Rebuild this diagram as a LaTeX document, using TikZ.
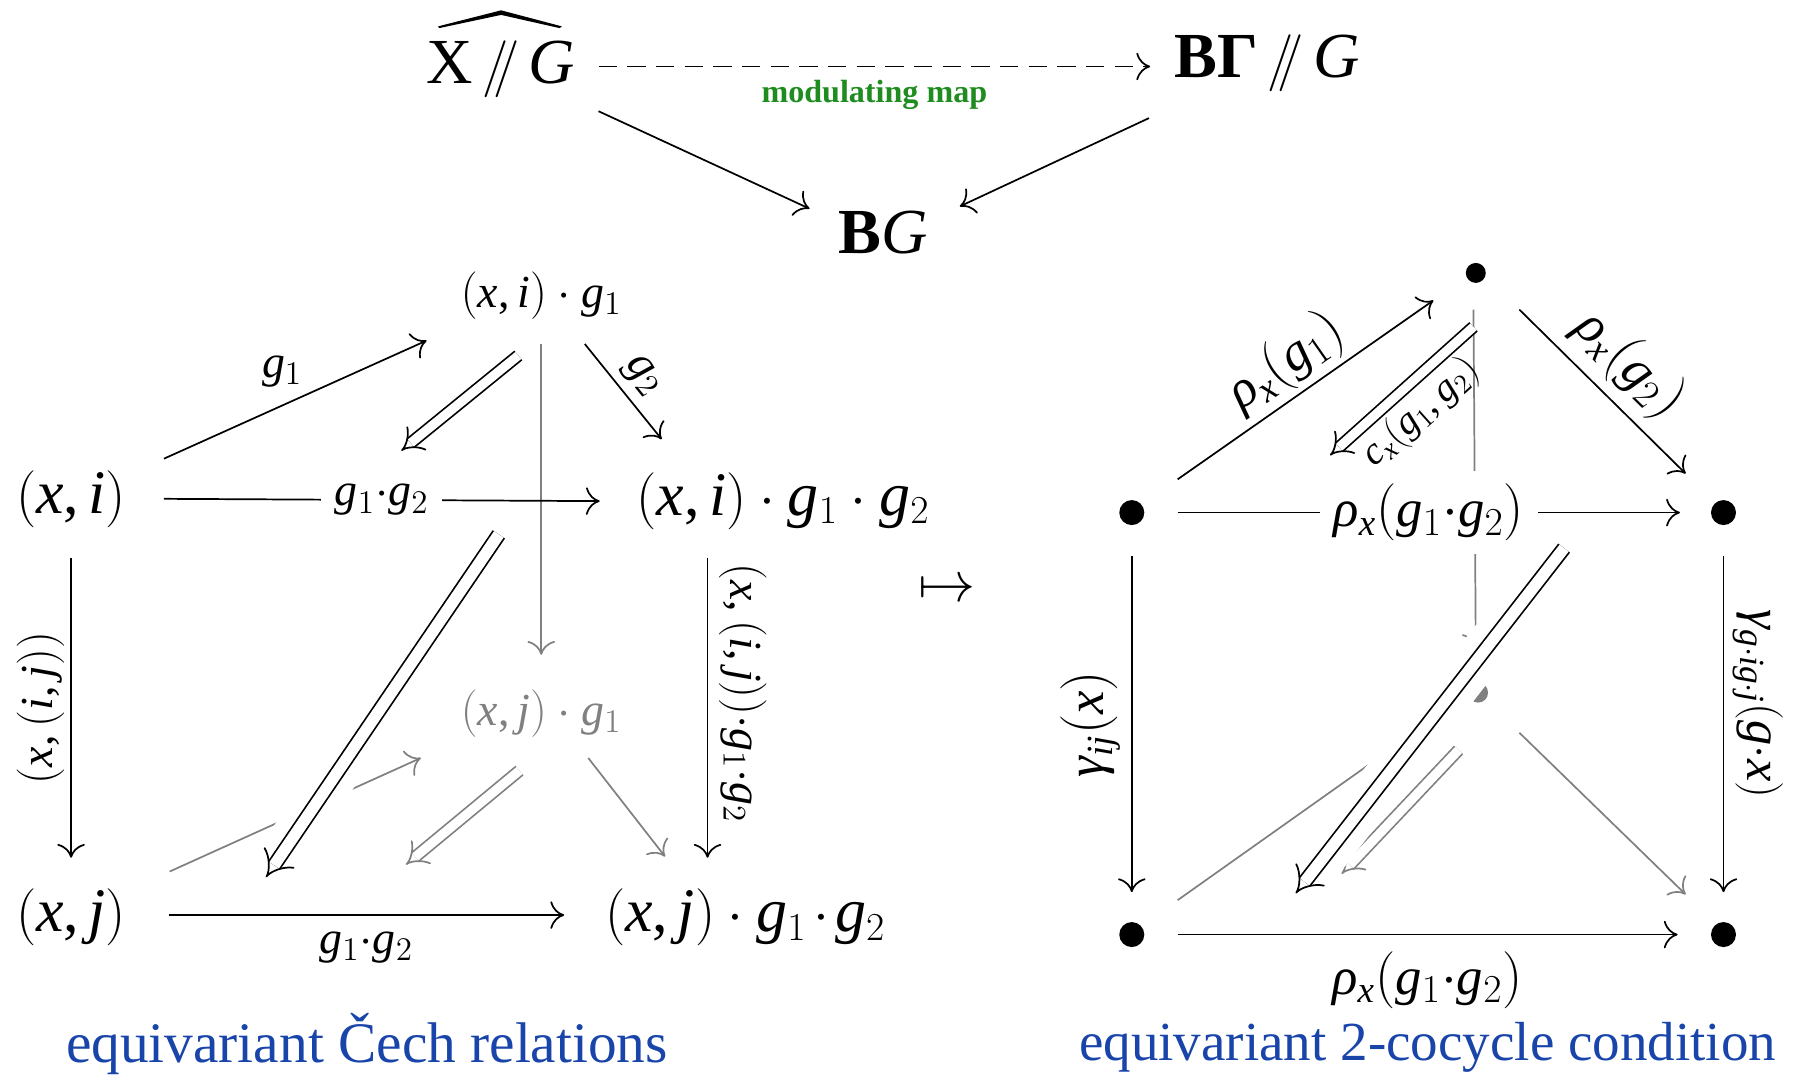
\documentclass[tikz,border=0pt]{standalone}
\usepackage{fontspec}
\setmainfont{Liberation Serif}
\newfontfamily\tmsfam{Liberation Serif}[NFSSFamily=tms]
\DeclareSymbolFont{tlet}{TU}{tms}{m}{it}
\DeclareSymbolFont{tup}{TU}{tms}{m}{n}
\Umathcode`x=7 \symtlet `x
\Umathcode`i=7 \symtlet `i
\Umathcode`j=7 \symtlet `j
\Umathcode`g=7 \symtlet `g
\Umathcode`c=7 \symtlet `c
\Umathcode`G=7 \symtlet `G
\Umathcode`1=0 \symtup `1
\Umathcode`2=0 \symtup `2
\Umathcode`(=4 \symtup `(
\Umathcode`)=5 \symtup `)
\Umathcode`,=6 \symtup `,
\Umathchardef\trho=0 \symtlet "03C1
\Umathchardef\tgamma=0 \symtlet "03B3
\usetikzlibrary{arrows.meta}
\definecolor{eqblue}{RGB}{25,68,170}
\definecolor{modgreen}{RGB}{30,140,30}
\tikzset{
  ar/.style={line width=0.75pt, -{Computer Modern Rightarrow[width=12pt,length=6pt]}},
  gar/.style={ar, draw=gray},
  dar/.style={line width=0.75pt, double=white, double distance=4pt, -{Implies}},
  bdar/.style={line width=0.75pt, double=white, double distance=5pt, -{Implies}},
  band/.style={draw=white, line width=19.5pt},
  topf/.style={font=\fontsize{28}{32}\selectfont, inner sep=0pt},
  bigm/.style={font=\fontsize{27}{30}\selectfont, inner sep=0pt},
  smm/.style={font=\fontsize{20}{23}\selectfont, inner sep=0pt},
  lab/.style={font=\fontsize{20}{23}\selectfont, inner sep=0pt},
  rlab/.style={font=\fontsize{23}{26}\selectfont, inner sep=0pt},
  clab/.style={font=\fontsize{17}{20}\selectfont, inner sep=0pt},
  inl/.style={fill=white, inner xsep=6pt, inner ysep=5.5pt},
  bluetext/.style={font=\fontsize{25}{30}\selectfont, text=eqblue, inner sep=0pt},
  dotS/.style={circle, fill=black, inner sep=0pt, minimum size=8.7pt},
  dotL/.style={circle, fill=black, inner sep=0pt, minimum size=10.9pt},
}
\newcommand{\tdot}{\mskip2mu{\cdot}\mskip2mu}
\begin{document}
\begin{tikzpicture}[x=0.5pt,y=-0.5pt]
\useasboundingbox (0,0) rectangle (1568,944);

% ---------- top triangle ----------
\node[topf] (T1) at (437,60) {$\mathrm{X}\,/\mkern-5mu/\,G$};
\fill ([shift={(-55,-37)}]T1.center) -- ([shift={(0,-51)}]T1.center) -- ([shift={(53,-37)}]T1.center)
  -- ([shift={(51,-35.5)}]T1.center) -- ([shift={(0,-47)}]T1.center) -- ([shift={(-54,-35.5)}]T1.center) -- cycle;
\node[topf] (T2) at (1105,55) {\textbf{BΓ}$\,/\mkern-5mu/\,G$};
\node[topf] (T3) at (770,203) {\textbf{B}$G$};
\draw[ar, dash pattern=on 8pt off 4.5pt] ([shift={(85,-2)}]T1.center) -- ([shift={(-102,3)}]T2.center)
  node[midway, below=5.5pt, font=\fontsize{14}{16}\selectfont\bfseries, text=modgreen, inner sep=0pt] {modulating map};
\draw[ar] ([shift={(85,37)}]T1.center) -- ([shift={(-64,-21)}]T3.center);
\draw[ar] ([shift={(-103,48)}]T2.center) -- ([shift={(67,-23)}]T3.center);

% ---------- left cube ----------
\node[bigm] (A) at (62,435) {$(x,i)$};
\node[smm] (B) at (472,258) {$(x,i)\cdot g_1$};
\node[bigm] (C) at (683,437) {$(x,i)\cdot g_1\cdot g_2$};
\node[bigm] (D) at (62,800) {$(x,j)$};
\node[smm, text=gray] (E) at (472,622) {$(x,j)\cdot g_1$};
\node[bigm] (F) at (650,800) {$(x,j)\cdot g_1\tdot g_2$};

\coordinate (L1s) at (452,310);
\coordinate (L1e) at (350,393);
\coordinate (L2s) at (435,466);
\coordinate (L2e) at (232,765);
\coordinate (L3s) at (453,672);
\coordinate (L3e) at (354,754);

% gray (back) parts
\draw[gar] ([shift={(0,42)}]B.center) -- ([shift={(0,-51)}]E.center);
\draw[gar] ([shift={(86,-40)}]D.center) -- ([shift={(-105,39)}]E.center);
\draw[gar] ([shift={(41,39)}]E.center) -- ([shift={(-70,-53)}]F.center);
\draw[dar, draw=gray] (L3s) -- (L3e);

% front parts
\draw[ar] ([shift={(81,-35)}]A.center) -- ([shift={(-100,39)}]B.center)
  node[pos=0.45, above=7.5pt, lab] {$g_1$};
\draw[ar] ([shift={(38,42)}]B.center) -- ([shift={(-106,-54)}]C.center)
  node[midway, sloped, above=3.5pt, lab] {$g_2$};
\draw[ar] ([shift={(81,0)}]A.center) -- ([shift={(-160,0)}]C.center)
  node[midway, lab, inl] {$g_1{\cdot}g_2$};
\draw[dar] (L1s) -- (L1e);
\draw[ar] ([shift={(0,52)}]A.center) -- ([shift={(0,-52)}]D.center)
  node[midway, rotate=90, anchor=south, outer sep=3pt, lab] {$(x,(i,j))$};
\draw[ar] ([shift={(-66,50)}]C.center) -- ([shift={(-33,-52)}]F.center)
  node[pos=0.45, rotate=-90, anchor=south, lab, outer sep=5pt] {$(x,(i,j)){\cdot}g_1{\cdot}g_2$};
\draw[ar] ([shift={(85,-2)}]D.center) -- ([shift={(-158,-2)}]F.center)
  node[midway, below=7pt, lab] {$g_1{\cdot}g_2$};
\draw[band] (L2s) -- (L2e);
\draw[bdar] (L2s) -- (L2e);

\node[bluetext] (capL) at (320,910) {equivariant Čech relations};

\node[font=\fontsize{23}{26}\selectfont, inner sep=0pt] (mt) at (826,515) {$\mapsto$};

% ---------- right cube ----------
\node[dotS] (R1) at (1287,238) {};
\node[dotL] (R2) at (987,447) {};
\node[dotL] (R3) at (1503,447) {};
\node[dotL] (R4) at (987,815) {};
\node[dotL] (R5) at (1503,815) {};
\node[dotS, fill=gray] (R6) at (1289,604) {};

\coordinate (M1s) at (1285,285);
\coordinate (M1e) at (1160,397);
\coordinate (M2s) at (1364,478);
\coordinate (M2e) at (1130,779);
\coordinate (M3s) at (1272,654);
\coordinate (M3e) at (1170,762);

% gray (back) parts
\draw[gar] ([shift={(-2,32)}]R1.center) -- ([shift={(-2,-39)}]R6.center);
\draw[gar] ([shift={(40,-30)}]R4.center) -- ([shift={(-39,23)}]R6.center);
\draw[gar] ([shift={(36,35)}]R6.center) -- ([shift={(-33,-35)}]R5.center);
\draw[dar, draw=gray] (M3s) -- (M3e);
\draw[band] (M2s) -- (M2e);
\draw[bdar] (M2s) -- (M2e);

% front parts
\draw[ar] ([shift={(40,-29)}]R2.center) -- ([shift={(-37,24)}]R1.center)
  node[midway, sloped, above=2pt, rlab] {$\trho_x(g_1)$};
\draw[ar] ([shift={(38,32)}]R1.center) -- ([shift={(-33,-34)}]R3.center)
  node[midway, sloped, above=4pt, rlab] {$\trho_x(g_2)$};
\draw[dar] (M1s) -- (M1e)
  node[midway, sloped, below=3.5pt, clab] {$c_x(g_1,g_2)$};
\draw[ar] ([shift={(40,0)}]R2.center) -- ([shift={(-38,0)}]R3.center)
  node[midway, rlab, inl] {$\trho_x(g_1{\cdot}g_2)$};
\draw[ar] ([shift={(0,38)}]R2.center) -- ([shift={(0,-37)}]R4.center)
  node[midway, rotate=90, anchor=south, outer sep=5pt, rlab] {$\tgamma_{ij}(x)$};
\draw[ar] ([shift={(0,38)}]R3.center) -- ([shift={(0,-37)}]R5.center)
  node[pos=0.44, rotate=-90, anchor=south, outer sep=4pt, font=\fontsize{22}{25}\selectfont, inner sep=0pt] {$\tgamma_{g\cdot i g\cdot j}(g{\cdot}x)$};
\draw[ar] ([shift={(40,0)}]R4.center) -- ([shift={(-40,0)}]R5.center)
  node[midway, below=7pt, rlab] {$\trho_x(g_1{\cdot}g_2)$};

\node[bluetext, font=\fontsize{24}{29}\selectfont] (capR) at (1245,913) {equivariant 2-cocycle condition};
\end{tikzpicture}
\end{document}
